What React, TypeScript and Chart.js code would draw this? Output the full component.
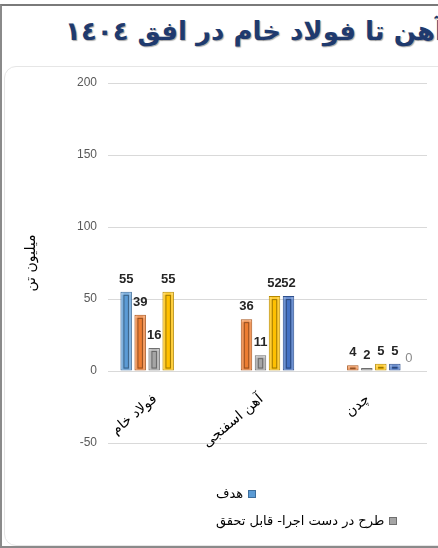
import React, { useEffect, useRef } from "react";
import { Chart, registerables } from "chart.js";
Chart.register(...registerables);

const titleText = "آهن تا فولاد خام در افق ١٤٠٤";
const yAxisTitle = "میلیون تن";
const categories = ["فولاد خام", "آهن اسفنجی", "چدن"];
const seriesLabels = ["هدف", "", "طرح در دست اجرا- قابل تحقق", "", "", ""];
const seriesColors = ["#5B9BD5", "#ED7D31", "#A5A5A5", "#FFC000", "#4472C4", "#70AD47"];
const seriesBorders = ["#3E6E9C", "#A9561E", "#6F6F6F", "#B78A00", "#2E4F8C", "#4E7A31"];
const seriesA = [55, null, null];
const seriesB = [39, 36, 4];
const seriesC = [16, 11, 2];
const seriesD = [55, 52, 5];
const seriesE = [null, 52, 5];
const seriesF = [null, null, 0];
const allSeries = [seriesA, seriesB, seriesC, seriesD, seriesE, seriesF];
const legendIndexes = [0, 2];
const yMin = -50;
const yMax = 200;
const yStep = 50;

const bevelPlugin = {
  id: "bevel",
  afterDatasetsDraw(chart: any) {
    const ctx = chart.ctx;
    chart.data.datasets.forEach((ds: any, di: number) => {
      const meta = chart.getDatasetMeta(di);
      meta.data.forEach((bar: any, i: number) => {
        const v = ds.data[i];
        if (v == null) return;
        const { x, y, base, width } = bar.getProps(["x", "y", "base", "width"], true);
        const left = x - width / 2;
        const top = Math.min(y, base);
        const h = Math.abs(base - y);
        if (h < 5) return;
        ctx.save();
        ctx.fillStyle = "rgba(255,255,255,0.22)";
        ctx.fillRect(left + 1, top + 1, 2, h - 2);
        ctx.fillRect(left + width - 3, top + 1, 2, h - 2);
        ctx.fillRect(left + 1, top + 1, width - 2, 2);
        ctx.strokeStyle = "rgba(0,0,0,0.38)";
        ctx.lineWidth = 1;
        ctx.strokeRect(left + 3.5, top + 3.5, width - 7, h - 6);
        ctx.restore();
      });
    });
  },
};

const labelPlugin = {
  id: "valueLabels",
  afterDatasetsDraw(chart: any) {
    const ctx = chart.ctx;
    chart.data.datasets.forEach((ds: any, di: number) => {
      const meta = chart.getDatasetMeta(di);
      meta.data.forEach((bar: any, i: number) => {
        const v = ds.data[i];
        if (v == null) return;
        const { x, y } = bar.getProps(["x", "y"], true);
        ctx.save();
        ctx.textAlign = "center";
        ctx.textBaseline = "alphabetic";
        if (v === 0) {
          ctx.font = "13px 'Liberation Sans'";
          ctx.fillStyle = "#8C8C8C";
        } else {
          ctx.font = "bold 13px 'Liberation Sans'";
          ctx.fillStyle = "#262626";
        }
        ctx.fillText(String(v), x, y - 9);
        ctx.restore();
      });
    });
  },
};

export default function App() {
  const ref = useRef<HTMLCanvasElement | null>(null);
  useEffect(() => {
    if (!ref.current) return;
    const chart = new Chart(ref.current, {
      type: "bar",
      data: {
        labels: categories,
        datasets: allSeries.map((d, i) => ({
          label: seriesLabels[i],
          data: d,
          backgroundColor: seriesColors[i],
          borderColor: seriesBorders[i],
          borderWidth: 1,
          borderSkipped: false,
          barPercentage: 0.82,
          categoryPercentage: 0.79,
        })),
      },
      options: {
        animation: false,
        responsive: false,
        maintainAspectRatio: false,
        devicePixelRatio: 1,
        layout: { padding: { top: 83, bottom: 105, left: 0, right: 11 } },
        plugins: {
          legend: { display: false },
          tooltip: { enabled: false },
          title: { display: false },
        },
        scales: {
          x: {
            position: { y: 0 } as any,
            grid: { display: false },
            border: { display: false },
            ticks: {
              minRotation: 40,
              maxRotation: 40,
              padding: 12,
              labelOffset: -6,
              color: "#000",
              font: { family: "'DejaVu Sans'", size: 14 },
            },
          },
          y: {
            min: yMin,
            max: yMax,
            ticks: {
              stepSize: yStep,
              padding: 11,
              color: "#595959",
              font: { family: "'Liberation Sans'", size: 12 },
            },
            grid: { color: "#D9D9D9", drawTicks: false },
            border: { display: false },
            title: {
              display: true,
              text: yAxisTitle,
              color: "#000",
              font: { family: "'DejaVu Sans'", size: 14 },
              padding: { top: 23, bottom: 0 },
            },
            afterFit: (s: any) => {
              s.width = 108;
            },
          },
        },
      },
      plugins: [bevelPlugin, labelPlugin],
    });
    return () => chart.destroy();
  }, []);

  return (
    <div style={{ position: "absolute", left: 0, top: 0, width: 438, height: 548, overflow: "hidden", background: "#fff" }}>
      <div style={{ position: "absolute", left: 0, top: 4, width: 460, height: 540, borderTop: "2px solid #7A7A7A", borderLeft: "2px solid #8A8A8A", borderBottom: "2px solid #8A8A8A" }} />
      <div style={{ position: "absolute", left: 4, top: 66, width: 470, height: 478, border: "1px solid #E6E6E6", borderRadius: 12 }} />
      <div
        style={{
          position: "absolute",
          right: -6,
          top: 11,
          whiteSpace: "nowrap",
          direction: "rtl",
          fontFamily: "'DejaVu Sans'",
          fontWeight: "bold",
          fontSize: 26,
          lineHeight: "40px",
          color: "#1F3A6E",
          textShadow: "1px 1px 1px rgba(0,0,0,0.35)",
        }}
      >
        {titleText}
      </div>
      <canvas ref={ref} width={438} height={548} style={{ position: "absolute", left: 0, top: 0, width: 438, height: 548 }} />
      <div style={{ position: "absolute", left: 216, top: 480, fontFamily: "'DejaVu Sans'", fontSize: 13, color: "#000" }}>
        {legendIndexes.map((idx) => (
          <div key={idx} style={{ display: "flex", alignItems: "center", height: 27, gap: 5 }}>
            <span style={{ direction: "rtl" }}>{seriesLabels[idx]}</span>
            <span style={{ width: 8, height: 8, background: seriesColors[idx], border: `1px solid ${seriesBorders[idx]}`, boxSizing: "border-box", display: "inline-block" }} />
          </div>
        ))}
      </div>
    </div>
  );
}
